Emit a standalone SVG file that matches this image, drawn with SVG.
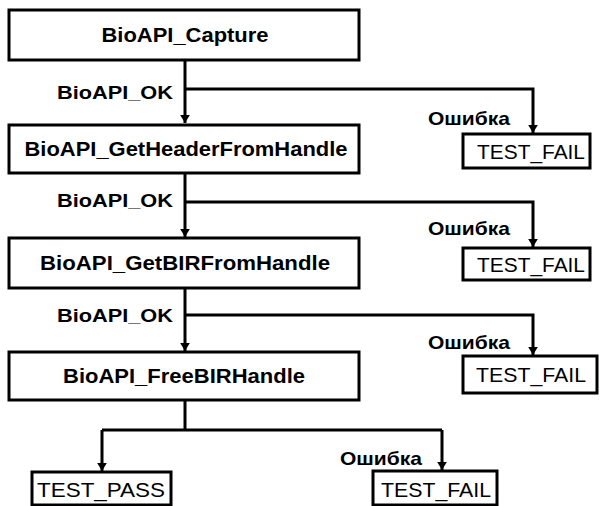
<svg xmlns="http://www.w3.org/2000/svg" width="602" height="506" viewBox="0 0 602 506">
<style>
.box{fill:#fff;stroke:#000;stroke-width:3}
.t{font-family:"Liberation Sans",Arial,sans-serif;font-size:21px;font-weight:bold;fill:#000;text-anchor:middle}
.r{font-family:"Liberation Sans",Arial,sans-serif;font-size:21px;fill:#000;text-anchor:middle}
.lbl{font-family:"Liberation Sans",Arial,sans-serif;font-size:19px;font-weight:bold;fill:#000;text-anchor:middle}
.c{fill:none;stroke:#000;stroke-width:3}
</style>
<defs>
<marker id="ah" viewBox="0 0 10 12" refX="10" refY="6" markerWidth="8" markerHeight="10" markerUnits="userSpaceOnUse" orient="auto">
<path d="M0,0 L10,6 L0,12 Z" fill="#000"/>
</marker>
</defs>
<rect width="602" height="506" fill="#fff"/>
<g id="connectors">
<path class="c" d="M185,60 V123" marker-end="url(#ah)"/>
<path class="c" d="M185,89 H533 V133" marker-end="url(#ah)"/>
<path class="c" d="M185,173 V237" marker-end="url(#ah)"/>
<path class="c" d="M185,202 H533 V247" marker-end="url(#ah)"/>
<path class="c" d="M185,288 V351" marker-end="url(#ah)"/>
<path class="c" d="M185,315 H533 V355" marker-end="url(#ah)"/>
<path class="c" d="M185,400 V430 M102,430 H442"/>
<path class="c" d="M102,430 V471" marker-end="url(#ah)"/>
<path class="c" d="M442,430 V470" marker-end="url(#ah)"/>
<text class="lbl" x="115" y="99" textLength="116" lengthAdjust="spacingAndGlyphs">BioAPI_OK</text>
<text class="lbl" x="115" y="207" textLength="116" lengthAdjust="spacingAndGlyphs">BioAPI_OK</text>
<text class="lbl" x="115" y="322" textLength="116" lengthAdjust="spacingAndGlyphs">BioAPI_OK</text>
<text class="lbl" x="469" y="125" textLength="82" lengthAdjust="spacingAndGlyphs">Ошибка</text>
<text class="lbl" x="469" y="235" textLength="82" lengthAdjust="spacingAndGlyphs">Ошибка</text>
<text class="lbl" x="469" y="349" textLength="82" lengthAdjust="spacingAndGlyphs">Ошибка</text>
<text class="lbl" x="381" y="465" textLength="82" lengthAdjust="spacingAndGlyphs">Ошибка</text>
</g>
<g id="capture">
<rect class="box" x="9" y="10" width="350" height="50"/>
<text class="t" x="185" y="42" textLength="167" lengthAdjust="spacingAndGlyphs">BioAPI_Capture</text>
</g>
<g id="getheader">
<rect class="box" x="9" y="125" width="350" height="48"/>
<text class="t" x="186" y="156" textLength="323" lengthAdjust="spacingAndGlyphs">BioAPI_GetHeaderFromHandle</text>
</g>
<g id="getbir">
<rect class="box" x="9" y="238" width="350" height="50"/>
<text class="t" x="185" y="270" textLength="290" lengthAdjust="spacingAndGlyphs">BioAPI_GetBIRFromHandle</text>
</g>
<g id="freebir">
<rect class="box" x="9" y="352" width="350" height="48"/>
<text class="t" x="184" y="383" textLength="242" lengthAdjust="spacingAndGlyphs">BioAPI_FreeBIRHandle</text>
</g>
<g id="fail1">
<rect class="box" x="463" y="134" width="127" height="34"/>
<text class="r" x="531" y="159" textLength="108" lengthAdjust="spacingAndGlyphs">TEST_FAIL</text>
</g>
<g id="fail2">
<rect class="box" x="463" y="248" width="127" height="32"/>
<text class="r" x="531" y="272" textLength="108" lengthAdjust="spacingAndGlyphs">TEST_FAIL</text>
</g>
<g id="fail3">
<rect class="box" x="463" y="356" width="134" height="37"/>
<text class="r" x="531" y="382" textLength="110" lengthAdjust="spacingAndGlyphs">TEST_FAIL</text>
</g>
<g id="pass">
<rect class="box" x="32" y="472" width="139" height="33"/>
<text class="r" x="101" y="497" textLength="128" lengthAdjust="spacingAndGlyphs">TEST_PASS</text>
</g>
<g id="fail4">
<rect class="box" x="373" y="471" width="124" height="34"/>
<text class="r" x="436" y="497" textLength="110" lengthAdjust="spacingAndGlyphs">TEST_FAIL</text>
</g>
</svg>
